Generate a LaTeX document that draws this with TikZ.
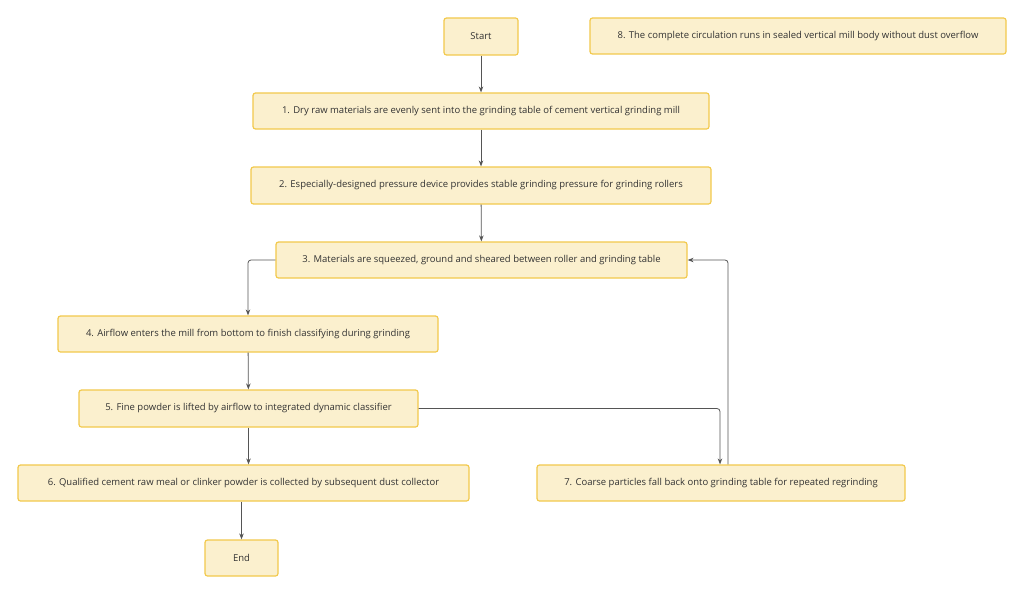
\documentclass[tikz,border=0pt]{standalone}
\usepackage{fontspec}
\setmainfont{Open Sans}
\usetikzlibrary{arrows.meta}
\definecolor{boxfill}{HTML}{FBF0CE}
\definecolor{boxline}{HTML}{F2C94C}
\definecolor{txt}{HTML}{333333}
\definecolor{lnk}{HTML}{555555}
\tikzset{
  x=1pt,y=-1pt,
  proc/.style={draw=boxline,fill=boxfill,line width=1.2pt,rounded corners=2.5pt,
    text=txt,font=\fontsize{9.5}{11}\selectfont,inner sep=0pt,anchor=center},
  link/.style={draw=lnk,line width=0.8pt,rounded corners=3pt,
    -{Stealth[length=6pt,width=4.5pt]}}
}
\begin{document}
\begin{tikzpicture}
\useasboundingbox[fill=white] (0,0) rectangle (1024,594);
\node[proc,minimum width=74pt,minimum height=37pt] (s) at (481,36.5) {Start};
\node[proc,minimum width=416pt,minimum height=36pt] (n8) at (798,36) {8. The complete circulation runs in sealed vertical mill body without dust overflow};
\node[proc,minimum width=456pt,minimum height=36pt] (n1) at (481,111) {1. Dry raw materials are evenly sent into the grinding table of cement vertical grinding mill};
\node[proc,minimum width=460pt,minimum height=37pt] (n2) at (481,185.5) {2. Especially-designed pressure device provides stable grinding pressure for grinding rollers};
\node[proc,minimum width=411pt,minimum height=36pt] (n3) at (481.5,260) {3. Materials are squeezed, ground and sheared between roller and grinding table};
\node[proc,minimum width=380pt,minimum height=36pt] (n4) at (248,334) {4. Airflow enters the mill from bottom to finish classifying during grinding};
\node[proc,minimum width=339pt,minimum height=37pt] (n5) at (248.5,408.5) {5. Fine powder is lifted by airflow to integrated dynamic classifier};
\node[proc,minimum width=451pt,minimum height=36pt] (n6) at (243.5,483) {6. Qualified cement raw meal or clinker powder is collected by subsequent dust collector};
\node[proc,minimum width=368pt,minimum height=36pt] (n7) at (721,483) {7. Coarse particles fall back onto grinding table for repeated regrinding};
\node[proc,minimum width=73pt,minimum height=36pt] (e) at (241.5,558) {End};
\draw[link] (s) -- (n1);
\draw[link] (n1) -- (n2);
\draw[link] (n2) -- (n3);
\draw[link] (n3.west) -| (n4.north);
\draw[link] (n4) -- (n5);
\draw[link] (n5.south) -- (n5.south |- n6.north);
\draw[link] (n5.east) -| ([xshift=-1pt]n7.north);
\draw[link] ([xshift=7pt]n7.north) |- (n3.east);
\draw[link] (n6.south -| e.north) -- (e.north);
\end{tikzpicture}
\end{document}
